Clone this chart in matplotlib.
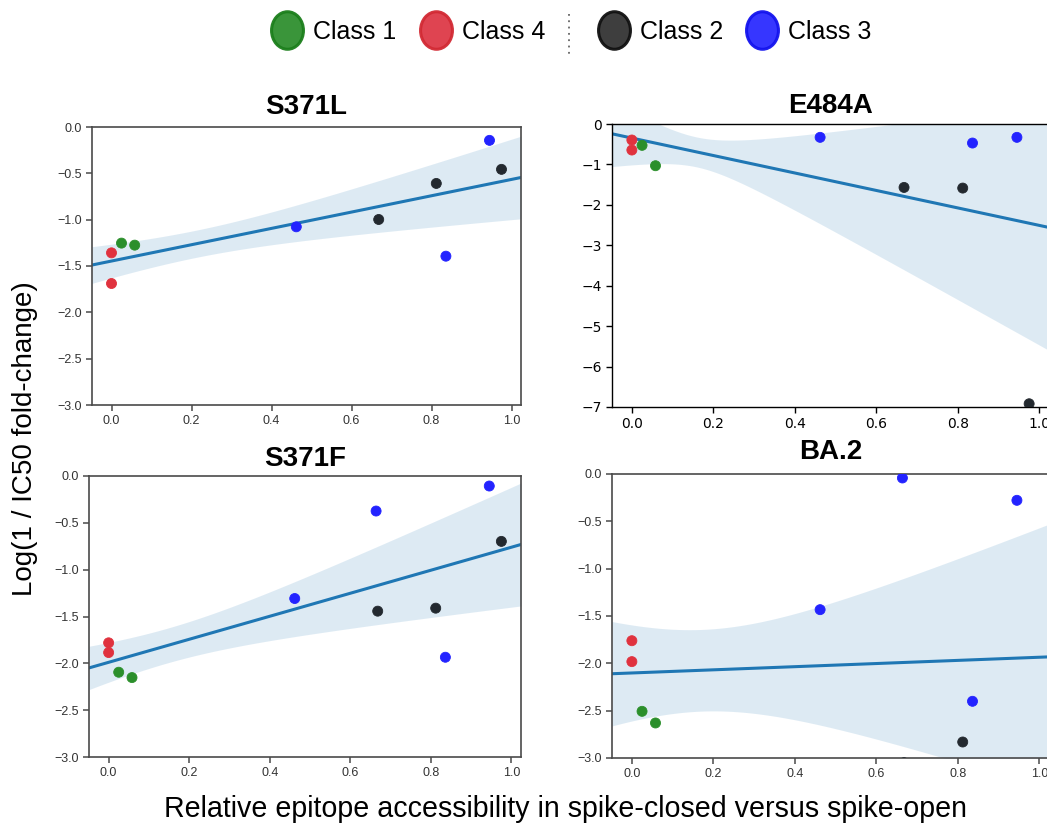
from __future__ import annotations

import matplotlib

matplotlib.use("Agg")

import matplotlib.pyplot as plt
import numpy as np
from matplotlib.lines import Line2D
from matplotlib.path import Path

FIG_W, FIG_H = 1047, 833

# relative epitope accessibility (closed vs open spike), one value per antibody
ACCESSIBILITY = [0.0, 0.0, 0.025, 0.058, 0.462, 0.664, 0.668, 0.812, 0.836, 0.945, 0.975]
ANTIBODY_CLASS = ["Class 4", "Class 4", "Class 1", "Class 1", "Class 3", "Class 3",
                  "Class 2", "Class 2", "Class 3", "Class 3", "Class 2"]

# log(1 / IC50 fold-change) per variant, nan = not shown
S371L = [-1.358, -1.689, -1.253, -1.275, -1.077, np.nan, -0.998, -0.609, -1.394, -0.144, -0.457]
E484A = [-0.396, -0.644, -0.528, -1.032, -0.330, np.nan, -1.569, -1.585, -0.471, -0.330, -6.92]
S371F = [-1.781, -1.885, -2.095, -2.152, -1.308, -0.374, -1.443, -1.411, -1.935, -0.107, -0.698]
BA2 = [-1.761, -1.982, -2.507, -2.630, -1.433, -0.042, -3.05, -2.831, -2.401, -0.278, -3.3]

LEGEND_ORDER = ["Class 1", "Class 4", "Class 2", "Class 3"]
LEGEND_X = [287, 436, 614, 762]  # marker centres, px

CLASS_COLORS = {
    "Class 1": "#2b8f2b",
    "Class 4": "#e0323e",
    "Class 2": "#23292f",
    "Class 3": "#2323ff",
}
LEGEND_FILL = {
    "Class 1": "#2f8f2f",
    "Class 4": "#de3a48",
    "Class 2": "#333333",
    "Class 3": "#2b2bff",
}
LEGEND_EDGE = {
    "Class 1": "#1c7f1c",
    "Class 4": "#d22a34",
    "Class 2": "#111111",
    "Class 3": "#1414ee",
}

LINE_COLOR = "#1f77b4"


def px_axes(fig, left, right, top, bottom):
    return fig.add_axes([left / FIG_W, 1 - bottom / FIG_H,
                         (right - left) / FIG_W, (bottom - top) / FIG_H])


def regression_band(x, y, grid):
    """OLS fit with a heteroscedasticity-robust 95% band."""
    mask = ~np.isnan(y)
    x, y = x[mask], y[mask]
    n = len(x)
    X = np.column_stack([np.ones_like(x), x])
    beta = np.linalg.lstsq(X, y, rcond=None)[0]
    resid = y - X @ beta
    bread = np.linalg.inv(X.T @ X)
    meat = X.T @ (X * resid[:, None] ** 2)
    cov = bread @ meat @ bread * n / (n - 2)
    G = np.column_stack([np.ones_like(grid), grid])
    se = np.sqrt(np.einsum("ij,jk,ik->i", G, cov, G))
    fit = G @ beta
    return fit, fit - 1.96 * se, fit + 1.96 * se


def style_seaborn(ax):
    for side in ax.spines.values():
        side.set_color("#4a4a4a")
        side.set_linewidth(1.2)
    ax.tick_params(colors="#4a4a4a", labelcolor="#333333", length=4, width=1.1,
                   labelsize=9)
    for lab in ax.get_xticklabels() + ax.get_yticklabels():
        lab.set_fontfamily("Liberation Sans")


def style_plain(ax):
    for side in ax.spines.values():
        side.set_color("black")
        side.set_linewidth(1.0)
    ax.tick_params(colors="black", length=4, width=1.0, labelsize=10)
    for lab in ax.get_xticklabels() + ax.get_yticklabels():
        lab.set_fontfamily("DejaVu Sans")


def plot_panel(ax, values, title, ylim, yticks, seaborn_look, title_pad):
    x = np.array(ACCESSIBILITY)
    y = np.array(values, dtype=float)
    colors = [CLASS_COLORS[c] for c in ANTIBODY_CLASS]
    ax.scatter(x, y, c=colors, s=52, linewidths=0.6, edgecolors=colors, zorder=3)

    lo, hi = ax.get_xlim()
    grid = np.linspace(lo, hi, 200)
    fit, band_lo, band_hi = regression_band(x, y, grid)
    ax.fill_between(grid, band_lo, band_hi, color=LINE_COLOR, alpha=0.15,
                    linewidth=0, zorder=1)
    ax.plot(grid, fit, color=LINE_COLOR, linewidth=2.2, zorder=2)
    ax.set_xlim(lo, hi)
    ax.set_ylim(*ylim)
    ax.set_xticks([0.0, 0.2, 0.4, 0.6, 0.8, 1.0])
    ax.set_xticklabels([f"{t:.1f}" for t in [0.0, 0.2, 0.4, 0.6, 0.8, 1.0]])
    ax.set_yticks(yticks)
    if seaborn_look:
        ax.set_yticklabels([f"{t:.1f}".replace("-", "\u2212") for t in yticks])
        style_seaborn(ax)
    else:
        style_plain(ax)
    ax.set_title(title, fontsize=20, fontweight="bold", family="Liberation Sans",
                 pad=title_pad)


def ellipse_marker():
    circle = Path.unit_circle()
    verts = circle.vertices * np.array([0.85, 1.0])
    return Path(verts, circle.codes)


def add_legend(fig):
    marker = ellipse_marker()
    size = 18
    font_px = size * 100 / 72
    y = 1 - 32 / FIG_H
    for name, cx in zip(LEGEND_ORDER, LEGEND_X):
        handle = Line2D([], [], linestyle="none", marker=marker, markersize=27,
                        markerfacecolor=LEGEND_FILL[name],
                        markeredgecolor=LEGEND_EDGE[name],
                        markeredgewidth=2.2, alpha=0.95)
        fig.legend([handle], [name], loc="center left",
                   bbox_to_anchor=((cx - font_px / 2) / FIG_W, y),
                   frameon=False, borderpad=0, borderaxespad=0,
                   handlelength=1.0, handletextpad=0.54,
                   prop={"family": "Liberation Sans", "size": size})
    fig.add_artist(Line2D([569 / FIG_W, 569 / FIG_W], [1 - 14 / FIG_H, 1 - 56 / FIG_H],
                          transform=fig.transFigure, color="#666666",
                          linestyle=(0, (1, 2.5)), linewidth=1.3))


def main() -> None:
    fig = plt.figure(figsize=(FIG_W / 100, FIG_H / 100), dpi=100)

    half_ticks = [0.0, -0.5, -1.0, -1.5, -2.0, -2.5, -3.0]
    ax1 = px_axes(fig, 92, 521, 127, 405)
    plot_panel(ax1, S371L, "S371L", (-3.0, 0.0), half_ticks, True, 9)

    ax2 = px_axes(fig, 612, 1049, 124, 407)
    plot_panel(ax2, E484A, "E484A", (-7.0, 0.0), list(range(0, -8, -1)), False, 8)

    ax3 = px_axes(fig, 89, 521, 476, 757)
    plot_panel(ax3, S371F, "S371F", (-3.0, 0.0), half_ticks, True, 7)

    ax4 = px_axes(fig, 612, 1049, 474, 758)
    plot_panel(ax4, BA2, "BA.2", (-3.0, 0.0), half_ticks, True, 11)

    fig.text(0.024, 1 - 439 / FIG_H, "Log(1 / IC50 fold-change)", rotation=90,
             ha="center", va="center", fontsize=20, family="Liberation Sans")
    fig.text(566 / FIG_W, 1 - 817 / FIG_H,
             "Relative epitope accessibility in spike-closed versus spike-open",
             ha="center", va="baseline", fontsize=20.6, family="Liberation Sans")

    add_legend(fig)
    fig.savefig("out.png", dpi=100)
    plt.close(fig)


if __name__ == "__main__":
    main()
